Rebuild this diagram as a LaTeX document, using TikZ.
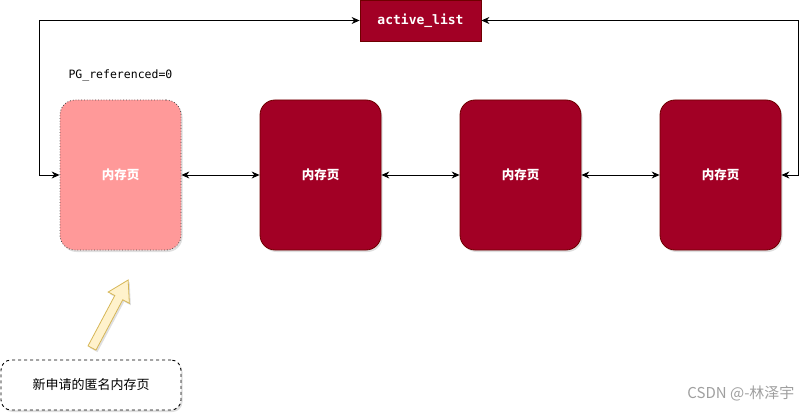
\documentclass[tikz,border=0pt]{standalone}
\usepackage{fontspec}
\setmainfont{Noto Sans CJK SC}
\setmonofont{DejaVu Sans Mono}
\usepackage{tikz}
\usetikzlibrary{arrows.meta,positioning,shadows}
\usepackage{xcolor}
\definecolor{pagered}{HTML}{A20025}
\definecolor{pageedge}{HTML}{6F0000}
\definecolor{newpink}{HTML}{FF9999}
\definecolor{hintfill}{HTML}{FFF2CC}
\definecolor{hintedge}{HTML}{D6B656}

\begin{document}
\begin{tikzpicture}[x=1pt,y=-1pt,>={Stealth[length=8pt,width=7pt]},
        soft/.style={drop shadow={shadow xshift=1.5pt,shadow yshift=-2pt,opacity=0.25}},
        page/.style={draw=pageedge,fill=pagered,rounded corners=15pt,soft,line width=0.8pt,
            minimum width=121pt,minimum height=150pt,text=white,
            font=\fontsize{12.5}{14}\selectfont\bfseries},
        listbox/.style={draw=pageedge,fill=pagered,minimum width=121pt,minimum height=41pt,
            line width=0.8pt,text=white,font=\ttfamily\bfseries\fontsize{13}{15}\selectfont},
        link/.style={<->,line width=0.9pt}]
    \useasboundingbox (0,0) rectangle (811,414);
    % --- list head on top ---
    \node[listbox] (activelist) at (420.5,20.5) {active\_list};
    % --- the four pages, left one freshly allocated ---
    \node[page,fill=newpink,draw=black!70,dotted] (page1) at (120.5,175) {内存页};
    \node[page,right=78.2pt of page1] (page2) {内存页};
    \node[page,right=78.2pt of page2] (page3) {内存页};
    \node[page,right=78.2pt of page3] (page4) {内存页};
    \node[anchor=west,font=\ttfamily\fontsize{11.5}{13}\selectfont] (refnote) at (65,75) {PG\_referenced=0};
    % --- links between neighbours, and back round to the head ---
    \draw[link] (page1) -- (page2);
    \draw[link] (page2) -- (page3);
    \draw[link] (page3) -- (page4);
    \draw[link] (page1.west) -- ++(-20,0) |- (activelist.west);
    \draw[link] (page4.east) -- ++(17,0) |- (activelist.east);
    % --- note with its hollow arrow ---
    \node[draw=black,line width=0.9pt,dashed,rounded corners=10pt,fill=white,soft,
        minimum width=180pt,minimum height=50pt,
        font=\fontsize{13}{15}\selectfont] (newpage) at (91,385) {新申请的匿名内存页};
    \begin{scope}[shift={(92,348)},rotate=62]
        \draw[draw=hintedge,fill=hintfill,line width=0.8pt,soft]
            (0,4.5) -- (57,4.5) -- (57,12) -- (77,0) -- (57,-12) -- (57,-4.5) -- (0,-4.5) -- cycle;
    \end{scope}
    \node[anchor=east,text=gray!75,font=\fontsize{15}{17}\selectfont] (mark) at (798,393) {CSDN @-林泽宇};
\end{tikzpicture}
\end{document}
